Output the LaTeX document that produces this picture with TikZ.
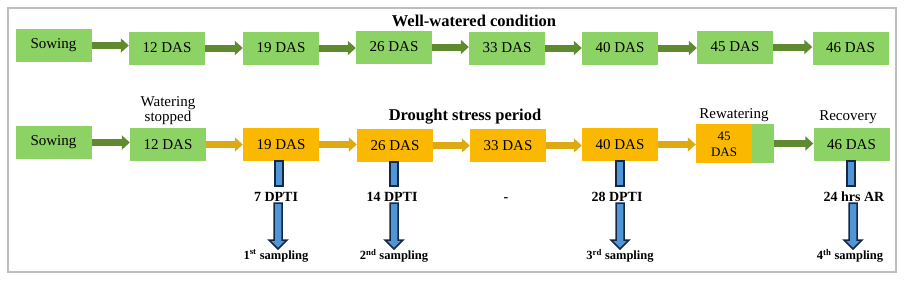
\documentclass[tikz,border=0pt]{standalone}
\usepackage{fontspec}
\setmainfont{Liberation Serif}
\usetikzlibrary{arrows.meta,calc}
\definecolor{lgreen}{RGB}{140,210,100}
\definecolor{dgreen}{RGB}{96,138,48}
\definecolor{gold}{RGB}{250,185,0}
\definecolor{goldarrow}{RGB}{222,170,20}
\definecolor{bfill}{RGB}{80,150,215}
\definecolor{bline}{RGB}{20,40,70}
\definecolor{framegray}{RGB}{190,190,190}
\newcommand\bluedrop[3]{%
  \draw[bluearr] (#1.south -| {#2-4},0) rectangle ({#2+4},186);
  \draw[bluearr] ({#3-4},203) -- ({#3+4},203) -- ({#3+4},240) -- ({#3+9},240) -- (#3,249) -- ({#3-9},240) -- ({#3-4},240) -- cycle;
}
\begin{document}
\begin{tikzpicture}[x=1pt,y=-1pt,
 box/.style={minimum width=76pt,minimum height=33pt,inner sep=0pt,font=\fontsize{15}{17}\selectfont},
 gbox/.style={box,fill=lgreen},
 obox/.style={box,fill=gold},
 garrow/.style={draw=dgreen,line width=7pt,-{Triangle[length=8pt,width=14pt]}},
 oarrow/.style={draw=goldarrow,line width=7pt,-{Triangle[length=8pt,width=14pt]}},
 bluearr/.style={fill=bfill,draw=bline,line width=1.5pt,line join=miter},
 lbl/.style={font=\fontsize{15}{15}\selectfont,inner sep=0pt,align=center},
 blbl/.style={font=\bfseries\fontsize{16.5}{16.5}\selectfont,inner sep=0pt},
 dlbl/.style={font=\bfseries\fontsize{14}{14}\selectfont,inner sep=0pt,text height=10pt,text depth=0pt},
 slbl/.style={font=\bfseries\fontsize{12.5}{12.5}\selectfont,inner sep=0pt}]
\useasboundingbox (0,0) rectangle (904,281);
\draw[framegray,line width=2.5pt] (8,8) rectangle (896,272);

% top row
\node[gbox] (t0) at (53.5,45.5) {Sowing};
\node[gbox] (t1) at (167,48) {12 DAS};
\node[gbox] (t2) at (281,48) {19 DAS};
\node[gbox] (t3) at (394,47) {26 DAS};
\node[gbox] (t4) at (507,48) {33 DAS};
\node[gbox] (t5) at (620,48) {40 DAS};
\node[gbox] (t6) at (735,47) {45 DAS};
\node[gbox] (t7) at (850.5,48) {46 DAS};
\foreach \a/\b in {t0/t1,t1/t2,t2/t3,t3/t4,t4/t5,t5/t6,t6/t7}
  \draw[garrow] (\a.east) -- (\a.east -| \b.west);
\node[blbl] (title1) at (474,21) {Well-watered condition};

% bottom row
\node[gbox] (b0) at (53.5,142.5) {Sowing};
\node[gbox] (b1) at (168,144.5) {12 DAS};
\node[obox] (b2) at (281,144.5) {19 DAS};
\node[obox] (b3) at (395,145.5) {26 DAS};
\node[obox] (b4) at (508,145.5) {33 DAS};
\node[obox] (b5) at (620,144.5) {40 DAS};
\node[box,fill=gold,minimum width=78pt,minimum height=39pt] (b6) at (735,143.5) {};
\fill[lgreen] ($(b6.north east)+(-22,0)$) rectangle (b6.south east);
\node[font=\fontsize{13}{16}\selectfont,align=center,inner sep=0pt] (b6t) at (724,144) {45\\DAS};
\node[gbox] (b7) at (851.5,144.5) {46 DAS};
\draw[garrow] (b0.east) -- (b0.east -| b1.west);
\foreach \a/\b in {b1/b2,b2/b3,b3/b4,b4/b5,b5/b6}
  \draw[oarrow] (\a.east) -- (\a.east -| \b.west);
\draw[garrow] (b6.east) -- (b6.east -| b7.west);

\node[lbl] (ws) at (168,110.5) {Watering\\stopped};
\node[blbl] (title2) at (465,117) {Drought stress period};
\node[lbl] (rew) at (734,115) {Rewatering};
\node[lbl] (rec) at (848,117) {Recovery};

% sampling
\bluedrop{b2}{279}{278}
\bluedrop{b3}{394}{394}
\bluedrop{b5}{620}{620}
\bluedrop{b7}{851}{853}
\node[dlbl] (d1) at (276,196) {7 DPTI};
\node[dlbl] (d2) at (392,196) {14 DPTI};
\node[dlbl] (d3) at (506,196) {-};
\node[dlbl] (d4) at (617,196) {28 DPTI};
\node[dlbl] (d5) at (854,196) {24 hrs AR};
\node[slbl] (s1) at (276,256) {1\textsuperscript{st} sampling};
\node[slbl] (s2) at (394,256) {2\textsuperscript{nd} sampling};
\node[slbl] (s3) at (620,256) {3\textsuperscript{rd} sampling};
\node[slbl] (s4) at (850,256) {4\textsuperscript{th} sampling};
\end{tikzpicture}
\end{document}
